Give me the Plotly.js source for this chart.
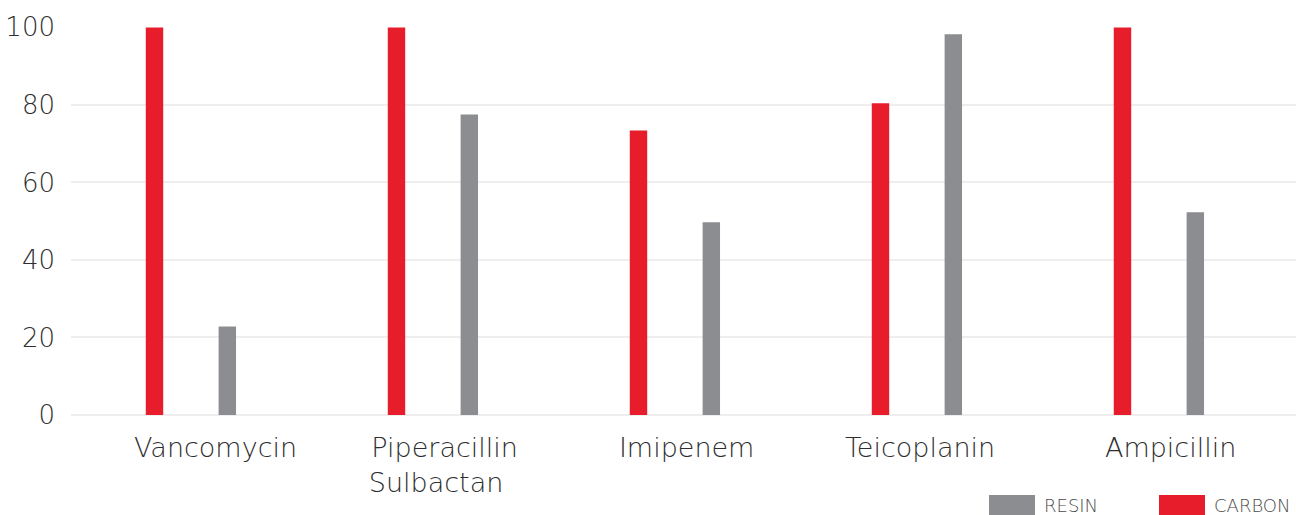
<!DOCTYPE html>
<html>
<head>
<meta charset="utf-8">
<script src="https://cdn.plot.ly/plotly-3.0.1.min.js"></script>
<style>
  html, body { margin: 0; padding: 0; background: #ffffff; }
  #chart { width: 1296px; height: 515px; }
</style>
</head>
<body>
<div id="chart"></div>
<script>
// ---- data ----
const categories = ["Vancomycin", "Piperacillin Sulbactan", "Imipenem", "Teicoplanin", "Ampicillin"];
const tickLabels = ["\u00a0\u00a0\u00a0Vancomycin", "Piperacillin<br>Sulbactan\u00a0\u00a0", "Imipenem", "Teicoplanin\u00a0\u00a0", "Ampicillin"];
const carbonValues = [100, 100, 73.4, 80.4, 100];
const resinValues = [22.8, 77.5, 49.7, 98.2, 52.3];
const yTickValues = [0, 20, 40, 60, 80, 100];
const legendOrder = ["RESIN", "CARBON"];

// ---- styles ----
const RED = "#e81d2b";
const GREY = "#8c8d91";
const FONT = "DejaVu Sans";
const TEXT = "#2e2e2e";

const W = 1296, H = 515;
const M = { l: 71, r: 0, t: 27, b: 100 };
const pw = W - M.l - M.r, ph = H - M.t - M.b;
const px = v => (v - M.l) / pw;
const py = v => (H - M.b - v) / ph;

const traces = [
  {
    type: "bar", name: "CARBON", x: categories, y: carbonValues,
    marker: { color: RED }, width: 0.072, offset: -0.235,
    hoverinfo: "x+y", showlegend: false
  },
  {
    type: "bar", name: "RESIN", x: categories, y: resinValues,
    marker: { color: GREY }, width: 0.072, offset: 0.066,
    hoverinfo: "x+y", showlegend: false
  }
];

const legendColors = { RESIN: GREY, CARBON: RED };
const legendSwatchX = [989, 1159];
const shapes = [], annotations = [];
legendOrder.forEach((name, i) => {
  const x0 = legendSwatchX[i];
  shapes.push({
    type: "rect", xref: "paper", yref: "paper",
    x0: px(x0), x1: px(x0 + 46), y0: py(520), y1: py(495),
    fillcolor: legendColors[name], line: { width: 0 }
  });
  annotations.push({
    xref: "paper", yref: "paper", x: px(x0 + 53), y: py(505),
    xanchor: "left", yanchor: "middle", showarrow: false,
    text: name, font: { family: FONT, size: 18, color: "#4a4a4a", weight: 200 }
  });
});

const layout = {
  width: W, height: H,
  margin: { l: M.l, r: M.r, t: M.t, b: M.b, pad: 0 },
  paper_bgcolor: "#ffffff", plot_bgcolor: "#ffffff",
  barmode: "overlay",
  showlegend: false,
  font: { family: FONT, color: TEXT },
  xaxis: {
    type: "category",
    range: [-0.544, 4.518],
    tickvals: categories, ticktext: tickLabels,
    showgrid: false, zeroline: false, showline: false, ticks: "",
    tickfont: { family: FONT, size: 27, color: TEXT, weight: 200 },
    ticklabelstandoff: 14,
    fixedrange: true
  },
  yaxis: {
    range: [0, 100.1],
    tickvals: yTickValues,
    ticktext: yTickValues.map(String),
    showgrid: true, gridcolor: "#eeeeee", gridwidth: 2,
    zeroline: true, zerolinecolor: "#eeeeee", zerolinewidth: 2,
    showline: false, ticks: "",
    tickfont: { family: FONT, size: 26, color: TEXT, weight: 200 },
    ticklabelstandoff: 15,
    fixedrange: true
  },
  shapes: shapes,
  annotations: annotations
};

Plotly.newPlot("chart", traces, layout, { displayModeBar: false, staticPlot: true });
</script>
</body>
</html>
